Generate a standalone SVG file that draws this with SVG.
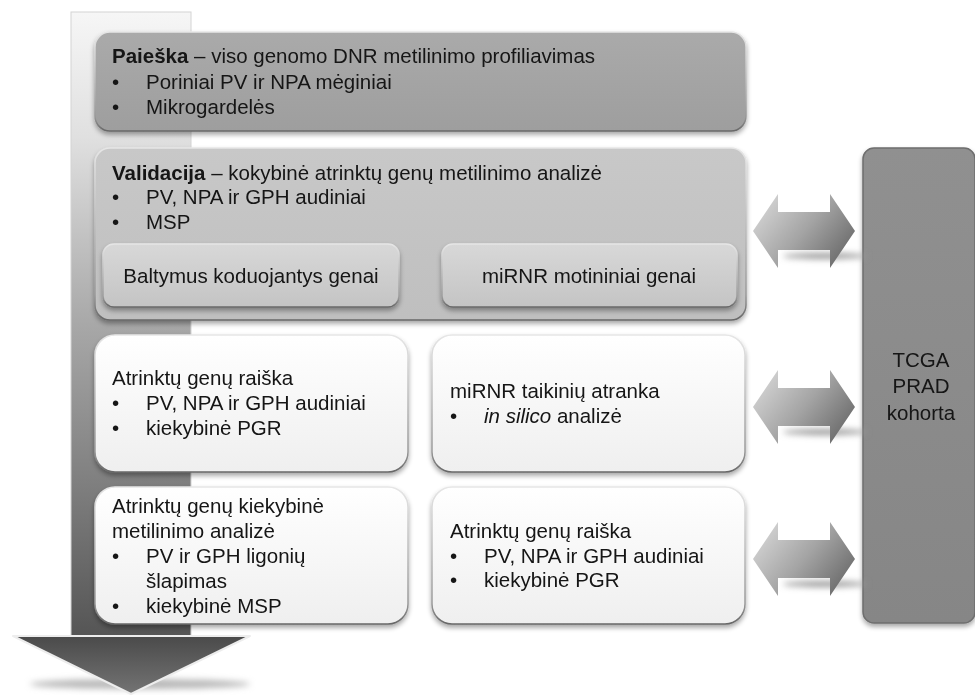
<svg xmlns="http://www.w3.org/2000/svg" width="975" height="695" viewBox="0 0 975 695">
<style>
  text { font-family: "Liberation Sans", Arial, sans-serif; font-size: 20.5px; fill: #141414; }
  .b { font-weight: bold; }
  .i { font-style: italic; }
  .c { text-anchor: middle; }
</style>
<defs>
  <linearGradient id="shaft" x1="0" y1="12" x2="0" y2="636" gradientUnits="userSpaceOnUse">
    <stop offset="0" stop-color="#f6f6f6"/>
    <stop offset="0.2" stop-color="#e0e0e0"/>
    <stop offset="0.5" stop-color="#a8a8a8"/>
    <stop offset="0.75" stop-color="#808080"/>
    <stop offset="1" stop-color="#555555"/>
  </linearGradient>
  <linearGradient id="head" x1="0" y1="0" x2="0" y2="1">
    <stop offset="0" stop-color="#4a4a4a"/>
    <stop offset="1" stop-color="#747474"/>
  </linearGradient>
  <linearGradient id="dbl" x1="0" y1="0.2" x2="1" y2="0.8">
    <stop offset="0" stop-color="#d6d6d6"/>
    <stop offset="0.5" stop-color="#a4a4a4"/>
    <stop offset="1" stop-color="#666666"/>
  </linearGradient>
  <linearGradient id="g1" x1="0" y1="0" x2="0" y2="1">
    <stop offset="0" stop-color="#aaaaaa"/>
    <stop offset="1" stop-color="#9e9e9e"/>
  </linearGradient>
  <linearGradient id="g2" x1="0" y1="0" x2="0" y2="1">
    <stop offset="0" stop-color="#c8c8c8"/>
    <stop offset="1" stop-color="#bfbfbf"/>
  </linearGradient>
  <linearGradient id="g3" x1="0" y1="0" x2="0" y2="1">
    <stop offset="0" stop-color="#d8d8d8"/>
    <stop offset="1" stop-color="#c4c4c4"/>
  </linearGradient>
  <linearGradient id="gw" x1="0" y1="0" x2="0" y2="1">
    <stop offset="0" stop-color="#ffffff"/>
    <stop offset="1" stop-color="#efefef"/>
  </linearGradient>
  <linearGradient id="gt" x1="0" y1="0" x2="0" y2="1">
    <stop offset="0" stop-color="#909090"/>
    <stop offset="1" stop-color="#868686"/>
  </linearGradient>
  <linearGradient id="edge" x1="0" y1="0" x2="0" y2="1">
    <stop offset="0" stop-color="#e6e6e6"/>
    <stop offset="0.85" stop-color="#9a9a9a"/>
    <stop offset="1" stop-color="#666666"/>
  </linearGradient>
  <filter id="sh" x="-5%" y="-10%" width="110%" height="125%">
    <feGaussianBlur in="SourceAlpha" stdDeviation="2.5"/>
    <feOffset dx="0" dy="3" result="o"/>
    <feComponentTransfer><feFuncA type="linear" slope="0.35"/></feComponentTransfer>
    <feMerge><feMergeNode/><feMergeNode in="SourceGraphic"/></feMerge>
  </filter>
  <filter id="blur" x="-20%" y="-200%" width="140%" height="500%">
    <feGaussianBlur stdDeviation="3"/>
  </filter>
</defs>

<g id="flow-arrow">
  <ellipse cx="140" cy="684" rx="110" ry="5" fill="#b8b8b8" filter="url(#blur)"/>
  <rect x="71" y="12" width="120" height="626" fill="url(#shaft)" stroke="#d4d4d4" stroke-width="1"/>
  <polygon points="13,636 250,636 131,694" fill="url(#head)" stroke="#ededed" stroke-width="2" stroke-linejoin="round"/>
</g>

<g id="paieska" filter="url(#sh)">
  <rect x="95" y="32" width="651" height="99" rx="15" fill="url(#g1)" stroke="url(#edge)" stroke-width="1.5"/>
  <text x="112" y="63"><tspan class="b">Paieška</tspan> – viso genomo DNR metilinimo profiliavimas</text>
  <text x="112" y="89">•</text><text x="146" y="89">Poriniai PV ir NPA mėginiai</text>
  <text x="112" y="114">•</text><text x="146" y="114">Mikrogardelės</text>
</g>

<g id="validacija" filter="url(#sh)">
  <rect x="95" y="148" width="651" height="172" rx="15" fill="url(#g2)" stroke="url(#edge)" stroke-width="1.5"/>
  <text x="112" y="180"><tspan class="b">Validacija</tspan> – kokybinė atrinktų genų metilinimo analizė</text>
  <text x="112" y="204">•</text><text x="146" y="204">PV, NPA ir GPH audiniai</text>
  <text x="112" y="229">•</text><text x="146" y="229">MSP</text>
</g>

<g id="baltymus" filter="url(#sh)">
  <rect x="103" y="244" width="296" height="63" rx="11" fill="url(#g3)" stroke="url(#edge)" stroke-width="1.5"/>
  <text class="c" x="251" y="283">Baltymus koduojantys genai</text>
</g>

<g id="mirnr-genai" filter="url(#sh)">
  <rect x="442" y="244" width="295" height="63" rx="11" fill="url(#g3)" stroke="url(#edge)" stroke-width="1.5"/>
  <text class="c" x="589" y="283">miRNR motininiai genai</text>
</g>

<g id="raiska1" filter="url(#sh)">
  <rect x="95" y="335" width="313" height="137" rx="20" fill="url(#gw)" stroke="url(#edge)" stroke-width="1.5"/>
  <text x="112" y="385">Atrinktų genų raiška</text>
  <text x="112" y="410">•</text><text x="146" y="410">PV, NPA ir GPH audiniai</text>
  <text x="112" y="435">•</text><text x="146" y="435">kiekybinė PGR</text>
</g>

<g id="taikiniai" filter="url(#sh)">
  <rect x="432" y="335" width="313" height="137" rx="20" fill="url(#gw)" stroke="url(#edge)" stroke-width="1.5"/>
  <text x="450" y="398">miRNR taikinių atranka</text>
  <text x="450" y="423">•</text><text x="484" y="423"><tspan class="i">in silico</tspan> analizė</text>
</g>

<g id="kiekybine" filter="url(#sh)">
  <rect x="95" y="487" width="313" height="137" rx="20" fill="url(#gw)" stroke="url(#edge)" stroke-width="1.5"/>
  <text x="112" y="513">Atrinktų genų kiekybinė</text>
  <text x="112" y="538">metilinimo analizė</text>
  <text x="112" y="563">•</text><text x="146" y="563">PV ir GPH ligonių</text>
  <text x="146" y="588">šlapimas</text>
  <text x="112" y="613">•</text><text x="146" y="613">kiekybinė MSP</text>
</g>

<g id="raiska2" filter="url(#sh)">
  <rect x="432" y="487" width="313" height="137" rx="20" fill="url(#gw)" stroke="url(#edge)" stroke-width="1.5"/>
  <text x="450" y="538">Atrinktų genų raiška</text>
  <text x="450" y="563">•</text><text x="484" y="563">PV, NPA ir GPH audiniai</text>
  <text x="450" y="587">•</text><text x="484" y="587">kiekybinė PGR</text>
</g>

<g id="tcga" filter="url(#sh)">
  <rect x="863" y="148" width="112" height="475" rx="11" fill="url(#gt)" stroke="#6e6e6e" stroke-width="1.5"/>
  <text class="c" x="921" y="367">TCGA</text>
  <text class="c" x="921" y="393">PRAD</text>
  <text class="c" x="921" y="420">kohorta</text>
</g>

<g id="connectors">
  <ellipse cx="825" cy="256" rx="42" ry="3" fill="#9a9a9a" filter="url(#blur)"/>
  <path d="M753,231 L778,194 L778,212 L830,212 L830,194 L855,231 L830,268 L830,250 L778,250 L778,268 Z" fill="url(#dbl)"/>
  <ellipse cx="825" cy="432" rx="42" ry="3" fill="#9a9a9a" filter="url(#blur)"/>
  <path d="M753,407 L778,370 L778,388 L830,388 L830,370 L855,407 L830,444 L830,426 L778,426 L778,444 Z" fill="url(#dbl)"/>
  <ellipse cx="825" cy="584" rx="42" ry="3" fill="#9a9a9a" filter="url(#blur)"/>
  <path d="M753,559 L778,522 L778,540 L830,540 L830,522 L855,559 L830,596 L830,578 L778,578 L778,596 Z" fill="url(#dbl)"/>
</g>
</svg>
